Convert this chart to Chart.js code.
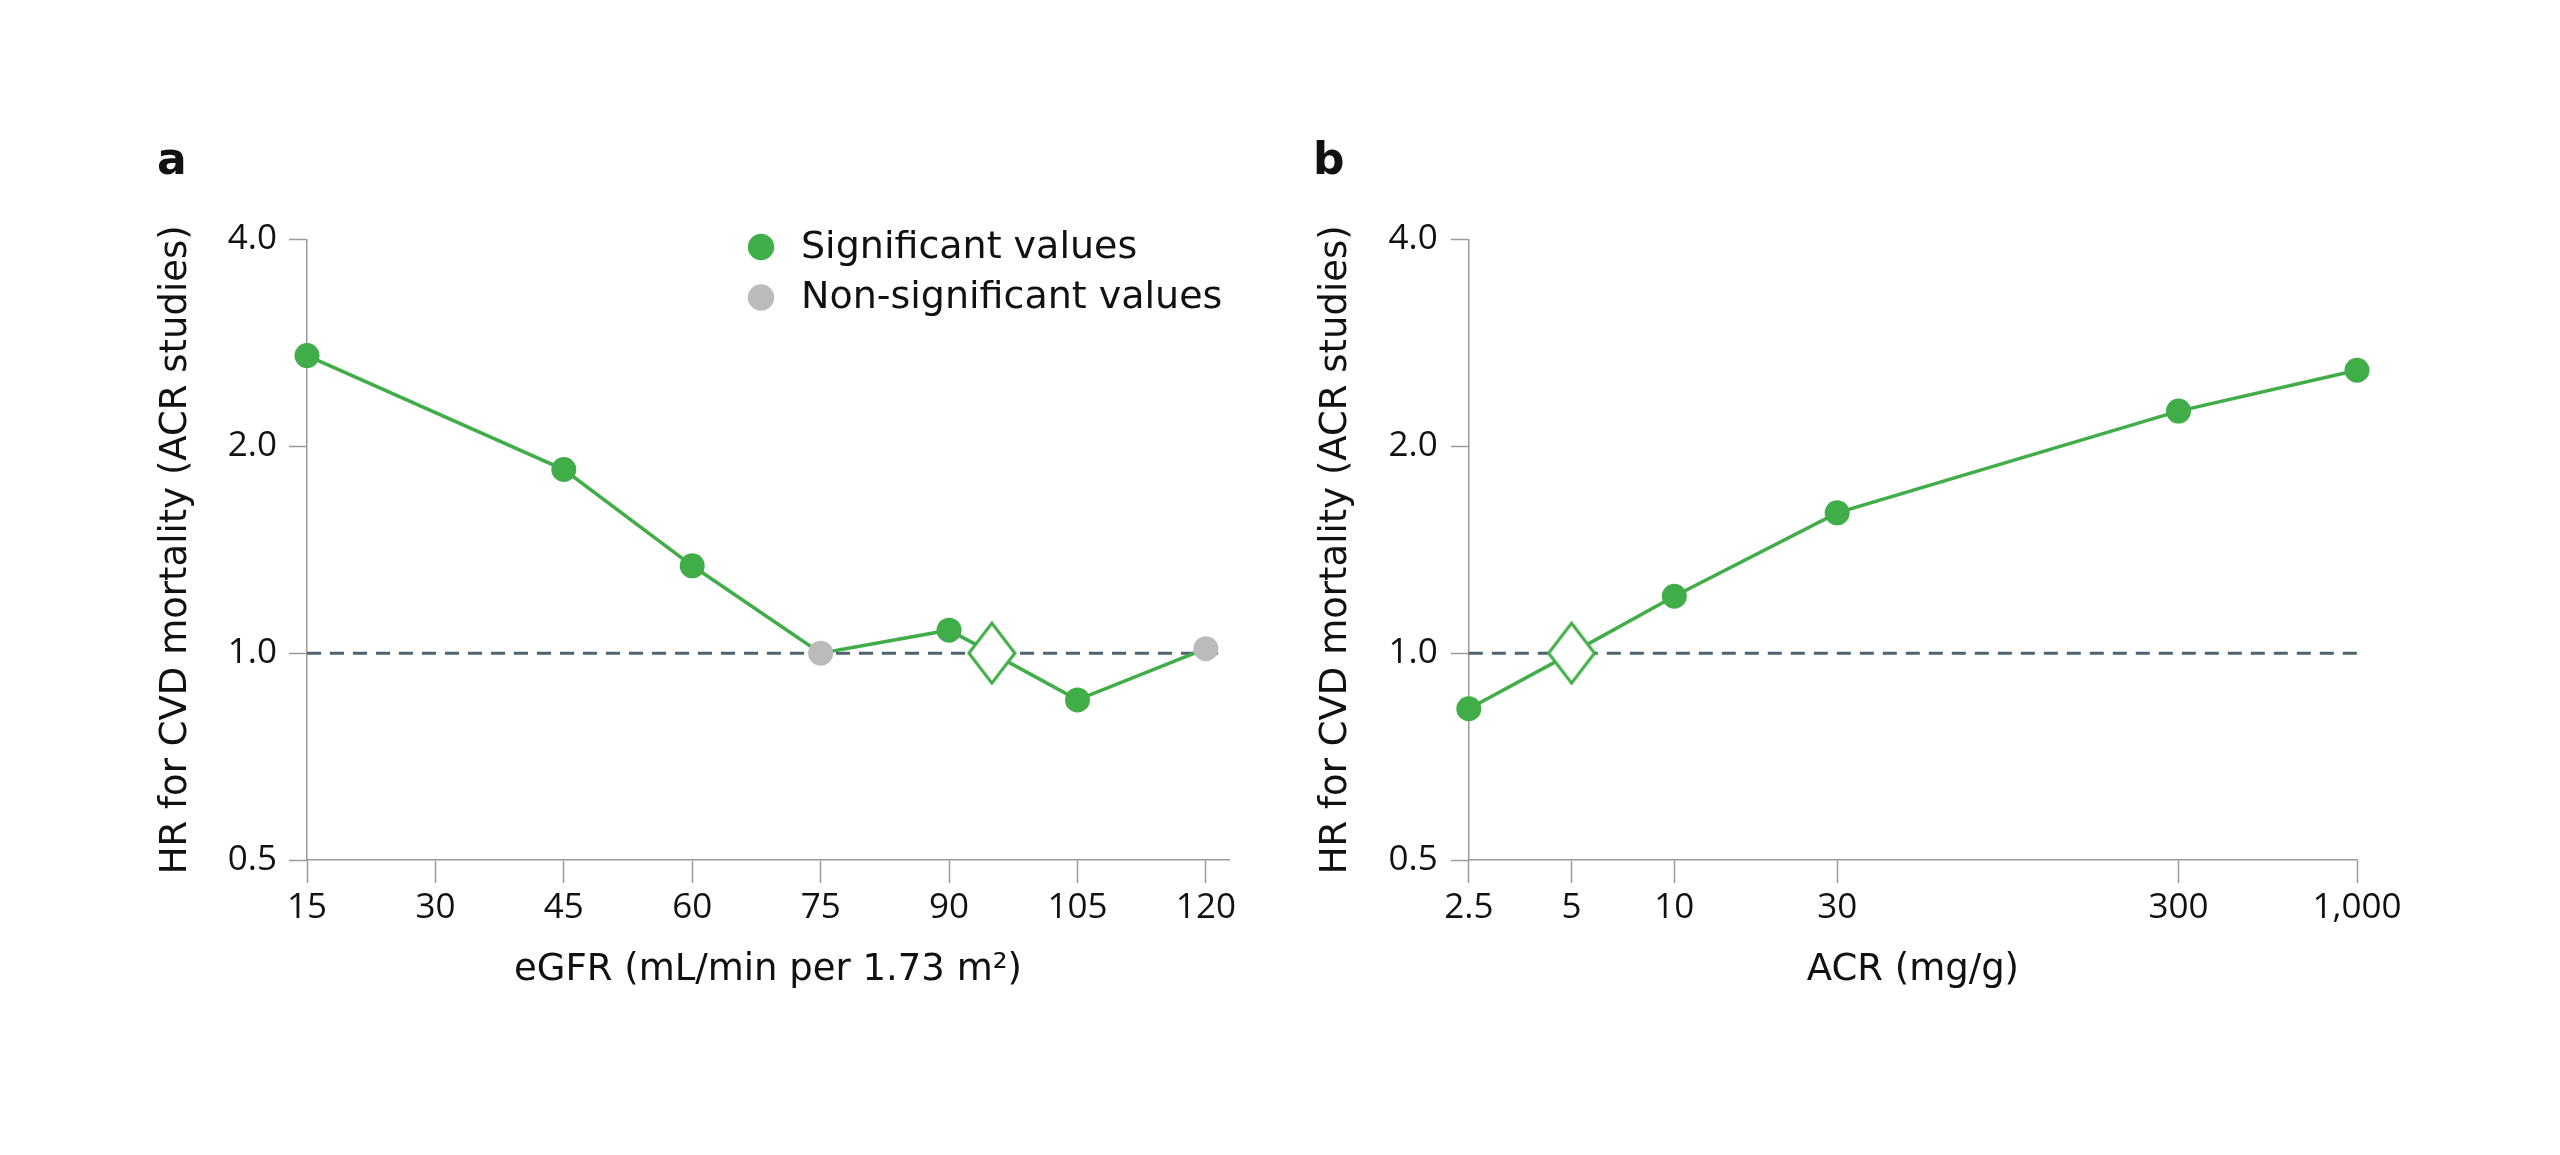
<!DOCTYPE html>
<html>
<head>
<meta charset="utf-8">
<script src="https://cdn.jsdelivr.net/npm/chart.js@4.4.1/dist/chart.umd.min.js"></script>
<style>
  html, body { margin: 0; padding: 0; background: #ffffff; }
  .panel { position: absolute; top: 0; width: 1280px; height: 1155px; }
  #wrapA { left: 0; }
  #wrapB { left: 1280px; }
</style>
</head>
<body>
<div class="panel" id="wrapA"><canvas id="chartA" width="1280" height="1155"></canvas></div>
<div class="panel" id="wrapB"><canvas id="chartB" width="1280" height="1155"></canvas></div>
<script>
// ---- data ----
const egfrValues = [15, 45, 60, 75, 90, 95, 105, 120];
const egfrHR     = [2.71, 1.85, 1.34, 1.0, 1.08, 1.0, 0.855, 1.015];
const egfrStatus = ['sig', 'sig', 'sig', 'ns', 'sig', 'ref', 'sig', 'ns'];

const acrValues  = [2.5, 5, 10, 30, 300, 1000];
const acrHR      = [0.83, 1.0, 1.21, 1.6, 2.25, 2.58];
const acrStatus  = ['sig', 'ref', 'sig', 'sig', 'sig', 'sig'];

const egfrTicks  = [15, 30, 45, 60, 75, 90, 105, 120];
const acrTicks   = [2.5, 5, 10, 30, 300, 1000];
const hrTicks    = [0.5, 1, 2, 4];

const legendLabels = ['Significant values', 'Non-significant values'];
const yTitle = 'HR for CVD mortality (ACR studies)';
const xTitleA = 'eGFR (mL/min per 1.73 m²)';
const xTitleB = 'ACR (mg/g)';

// ---- styles ----
const GREEN = '#41AD49';
const GREY = '#BBBBBB';
const DASH = '#4D6470';
const AXIS = '#9A9A9A';
const TEXT = '#111111';
const TICKFONT = "'Open Sans', 'Noto Sans', sans-serif";
const TITLEFONT = "'DejaVu Sans', 'Open Sans', sans-serif";
const TICKFS = 35;
const TITLEFS = 37;
const LEGENDFS = 38;

function makeDiamond() {
  const c = document.createElement('canvas');
  c.width = 50; c.height = 64;
  const g = c.getContext('2d');
  g.beginPath();
  g.moveTo(25, 2); g.lineTo(48, 32); g.lineTo(25, 62); g.lineTo(2, 32); g.closePath();
  g.fillStyle = '#ffffff'; g.fill();
  g.lineWidth = 3; g.strokeStyle = GREEN; g.lineJoin = 'miter'; g.stroke();
  return c;
}
const diamond = makeDiamond();

function pointColors(status) { return status.map(s => s === 'ns' ? GREY : (s === 'ref' ? '#ffffff' : GREEN)); }
function pointStyles(status) { return status.map(s => s === 'ref' ? diamond : 'circle'); }

const labelPlugin = {
  id: 'panelLabels',
  afterDraw(chart, args, opts) {
    const ctx = chart.ctx;
    ctx.save();
    ctx.fillStyle = TEXT;
    ctx.font = "bold 44px " + TITLEFONT;
    ctx.textBaseline = 'alphabetic';
    ctx.textAlign = 'left';
    ctx.fillText(opts.letter, opts.lx, opts.ly);
    if (opts.legend) {
      const items = [{c: GREEN, t: legendLabels[0]}, {c: GREY, t: legendLabels[1]}];
      ctx.font = LEGENDFS + "px " + TITLEFONT;
      ctx.textBaseline = 'middle';
      items.forEach((it, i) => {
        const cy = 247 + i * 50.5;
        ctx.beginPath();
        ctx.arc(761, cy, 13.2, 0, Math.PI * 2);
        ctx.fillStyle = it.c; ctx.fill();
        ctx.fillStyle = TEXT;
        ctx.fillText(it.t, 801, cy + 1);
      });
    }
    ctx.restore();
  }
};

function baseY(width, titlePad, tickPad) {
  return {
    type: 'logarithmic', min: 0.5, max: 4,
    afterFit: s => { s.width = width; },
    afterBuildTicks: s => { s.ticks = hrTicks.map(v => ({value: v})); },
    ticks: { padding: tickPad, color: TEXT, font: {family: TICKFONT, size: TICKFS}, callback: v => Number(v).toFixed(1) },
    grid: { drawOnChartArea: false, drawTicks: true, tickLength: 18, tickColor: AXIS, tickWidth: 1.5 },
    border: { display: true, color: AXIS, width: 1.5 },
    title: { display: true, text: yTitle, color: TEXT, font: {family: TITLEFONT, size: TITLEFS}, padding: {top: titlePad, bottom: 0} }
  };
}

function xAxis(opts) {
  return Object.assign({
    afterFit: s => { s.height = 150; },
    grid: { drawOnChartArea: false, drawTicks: true, tickLength: 23, tickColor: AXIS, tickWidth: 1.5 },
    border: { display: true, color: AXIS, width: 1.5 },
  }, opts);
}

function mainDataset(xs, ys, status) {
  return {
    data: xs.map((x, i) => ({x: x, y: ys[i]})),
    borderColor: GREEN, borderWidth: 3.5,
    pointRadius: 12.5, pointHoverRadius: 12.5,
    pointBackgroundColor: pointColors(status),
    pointBorderWidth: 0,
    pointStyle: pointStyles(status),
    tension: 0, clip: false
  };
}
function refDataset(x0, x1) {
  return {
    data: [{x: x0, y: 1}, {x: x1, y: 1}],
    borderColor: DASH, borderWidth: 3, borderDash: [14, 9],
    pointRadius: 0, tension: 0, clip: false
  };
}

const common = {
  responsive: false, animation: false, events: [], devicePixelRatio: 1,
  plugins: { legend: {display: false}, tooltip: {enabled: false} }
};

new Chart(document.getElementById('chartA'), {
  type: 'line',
  data: { datasets: [ mainDataset(egfrValues, egfrHR, egfrStatus), refDataset(15, 121.6) ] },
  options: Object.assign({}, common, {
    layout: { padding: {left: 0, top: 239.4, right: 51, bottom: 145} },
    plugins: Object.assign({}, common.plugins, { panelLabels: {letter: 'a', lx: 157, ly: 174, legend: true} }),
    scales: {
      x: xAxis({
        type: 'linear', min: 15, max: 122.7,
        afterBuildTicks: s => { s.ticks = egfrTicks.map(v => ({value: v})); },
        ticks: { padding: 4, color: TEXT, font: {family: TICKFONT, size: TICKFS}, maxRotation: 0, autoSkip: false },
        title: { display: true, text: xTitleA, color: TEXT, font: {family: TITLEFONT, size: TITLEFS}, padding: {top: 0, bottom: 17} }
      }),
      y: baseY(307, 154, 12)
    }
  }),
  plugins: [labelPlugin]
});

new Chart(document.getElementById('chartB'), {
  type: 'line',
  data: { datasets: [ mainDataset(acrValues, acrHR, acrStatus), refDataset(2.5, 1000) ] },
  options: Object.assign({}, common, {
    layout: { padding: {left: 0, top: 239.4, right: 203, bottom: 145} },
    plugins: Object.assign({}, common.plugins, { panelLabels: {letter: 'b', lx: 33, ly: 174, legend: false} }),
    scales: {
      x: xAxis({
        type: 'logarithmic', min: 2.5, max: 1000,
        afterBuildTicks: s => { s.ticks = acrTicks.map(v => ({value: v})); },
        ticks: { padding: 4, color: TEXT, font: {family: TICKFONT, size: TICKFS}, maxRotation: 0, autoSkip: false,
                 callback: v => Number(v).toLocaleString('en-US') },
        title: { display: true, text: xTitleB, color: TEXT, font: {family: TITLEFONT, size: TITLEFS}, padding: {top: 0, bottom: 17} }
      }),
      y: baseY(188.8, 34, 13)
    }
  }),
  plugins: [labelPlugin]
});
</script>
</body>
</html>
